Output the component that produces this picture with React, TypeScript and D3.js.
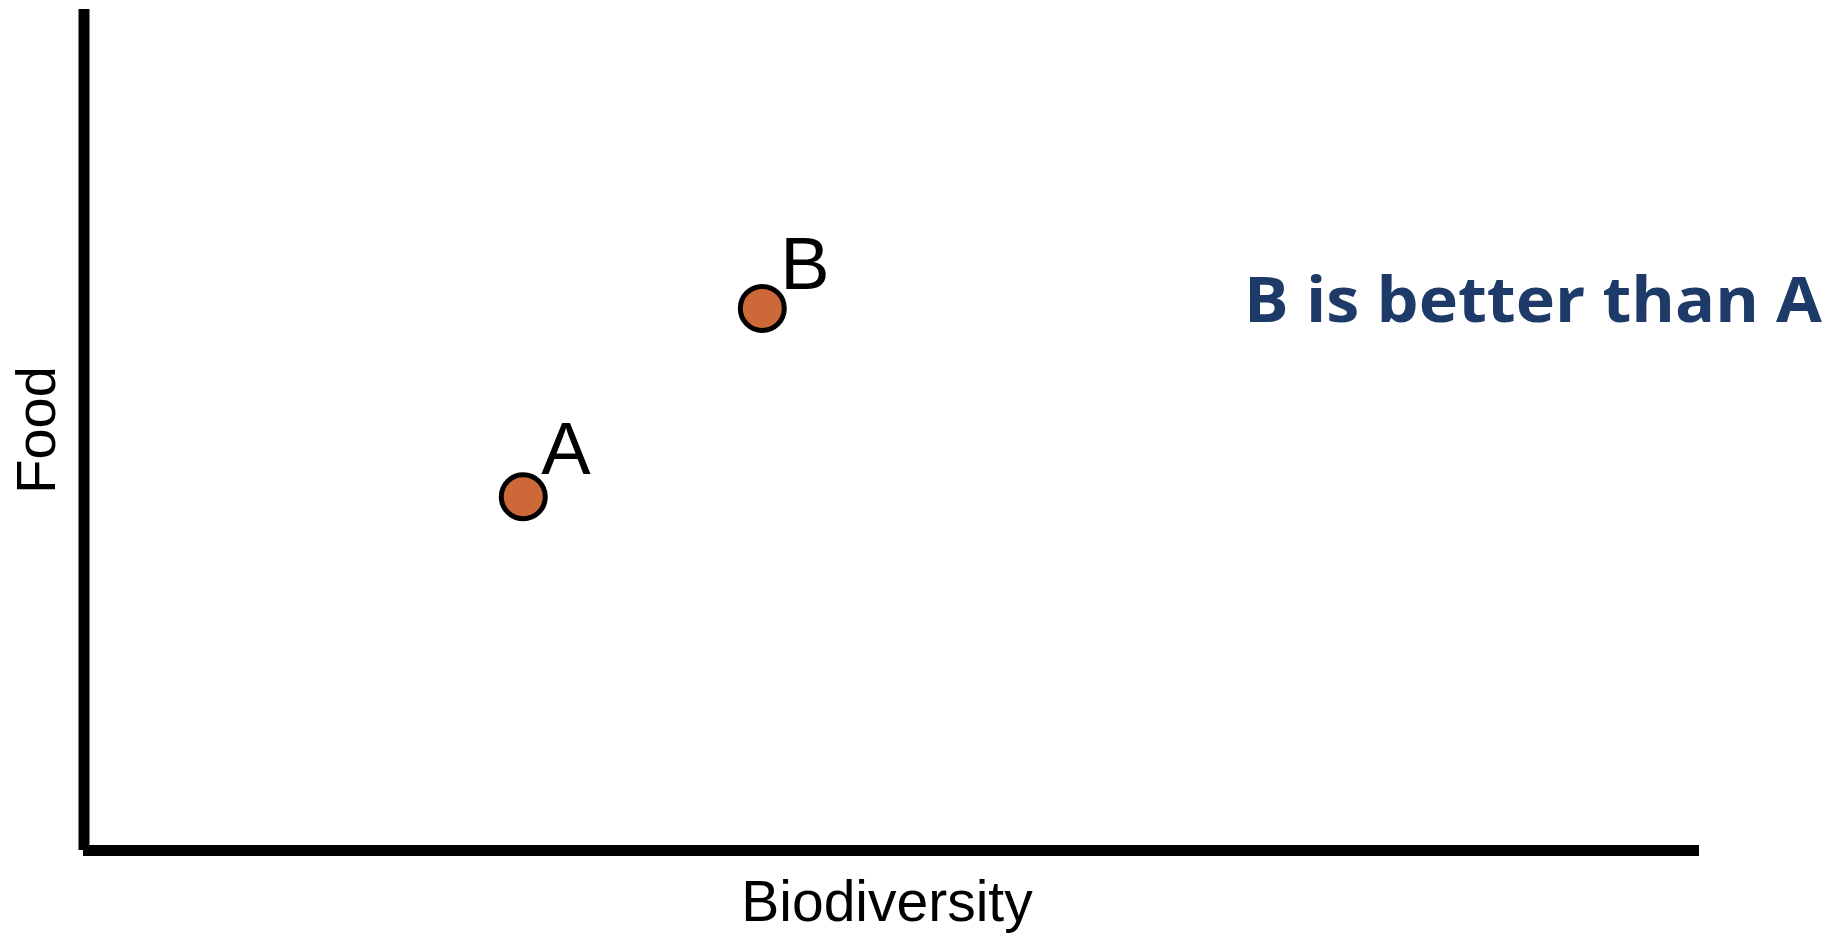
import React from "react";
import * as d3 from "d3";

const pointNames = ["A", "B"];
const biodiversity = [27.2, 42.0];
const food = [42.0, 64.4];
const xTitle = "Biodiversity";
const yTitle = "Food";
const note = "B is better than A";

const W = 1831;
const H = 935;
const LABEL_DY: Record<string, number> = { A: -23, B: -19 };

export default function App() {
  const x = d3.scaleLinear().domain([0, 100]).range([84, 1699]);
  const y = d3.scaleLinear().domain([0, 100]).range([850, 9]);
  const pts = pointNames.map((n, i) => ({ n, x: biodiversity[i], y: food[i] }));
  return (
    <svg
      width={W}
      height={H}
      style={{ position: "absolute", left: 0, top: 0, background: "#fff" }}
    >
      <line x1={x(0)} x2={x(0)} y1={y(100)} y2={y(0)} stroke="#000" strokeWidth={11} />
      <line x1={x(0) - 1} x2={x(100)} y1={y(0) + 0.5} y2={y(0) + 0.5} stroke="#000" strokeWidth={11} />
      {pts.map((p) => (
        <g key={p.n}>
          <circle cx={x(p.x)} cy={y(p.y)} r={22} fill="#CD6839" stroke="#000" strokeWidth={5} />
          <text
            x={x(p.x) + 18}
            y={y(p.y) + (LABEL_DY[p.n] ?? -20)}
            fontFamily="'Liberation Sans', Arial, sans-serif"
            fontSize={74}
            fill="#000"
          >
            {p.n}
          </text>
        </g>
      ))}
      <text
        x={887}
        y={921}
        textAnchor="middle"
        fontFamily="'Liberation Sans', Arial, sans-serif"
        fontSize={57}
        fill="#000"
      >
        {xTitle}
      </text>
      <text
        transform="translate(55,430) rotate(-90)"
        textAnchor="middle"
        fontFamily="'Liberation Sans', Arial, sans-serif"
        fontSize={56}
        fill="#000"
      >
        {yTitle}
      </text>
      <text
        x={1244}
        y={322}
        fontFamily="'Open Sans', sans-serif"
        fontWeight="bold"
        fontSize={62}
        fill="#1E3A68"
        textLength={578}
        lengthAdjust="spacingAndGlyphs"
      >
        {note}
      </text>
    </svg>
  );
}
